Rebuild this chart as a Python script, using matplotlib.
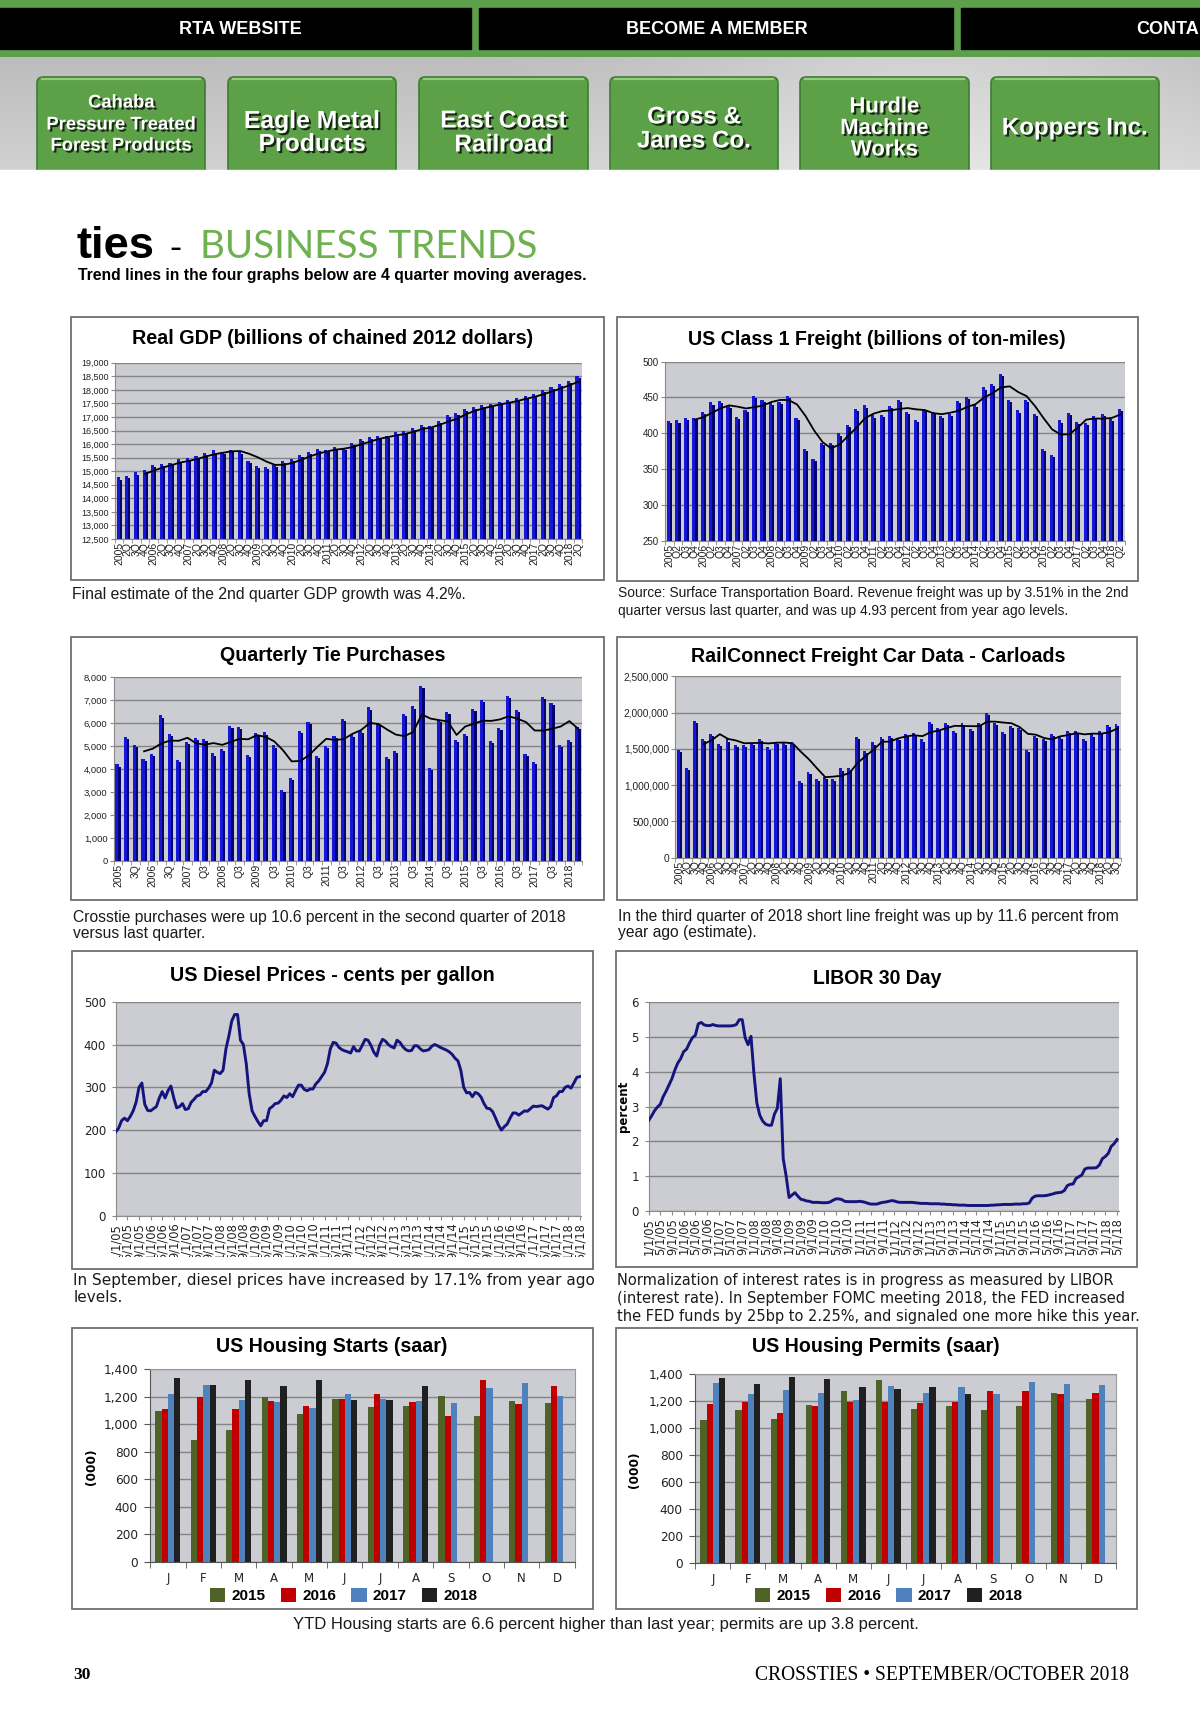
import numpy as np
import pandas as pd
import matplotlib
matplotlib.use('Agg')
import matplotlib.pyplot as plt
import matplotlib.patheffects as pe
from matplotlib import font_manager
from matplotlib.patches import Rectangle, FancyBboxPatch
from matplotlib.ticker import StrMethodFormatter
from matplotlib.transforms import Bbox, TransformedBbox

W, H = 1200, 1729

installed = {f.name for f in font_manager.fontManager.ttflist}
SANS = 'Liberation Sans'
NARROW = 'Liberation Sans Narrow' if 'Liberation Sans Narrow' in installed else SANS
VERD = 'DejaVu Sans'
SERIF = 'Liberation Serif'
LIGHT = 'Lato' if 'Lato' in installed else SANS
plt.rcParams['font.family'] = [SANS, 'DejaVu Sans']

# ---------------- data ----------------
# quarterly, 2005 Q1 .. 2018 Q2
gdp = [14768, 14840, 14956, 15041, 15244, 15282, 15305, 15434,
       15479, 15578, 15672, 15767, 15703, 15793, 15710, 15367,
       15188, 15162, 15217, 15379, 15456, 15606, 15726, 15808,
       15770, 15877, 15871, 16049, 16179, 16254, 16282, 16300,
       16442, 16464, 16595, 16713, 16654, 16868, 17065, 17144,
       17281, 17381, 17437, 17462, 17566, 17618, 17707, 17784,
       17863, 17995, 18121, 18224, 18324, 18512]

freight = [417, 418, 421, 421, 430, 443, 445, 438, 423, 433,
           452, 447, 443, 444, 452, 422, 379, 364, 387, 387,
           400, 412, 434, 439, 425, 426, 438, 447, 430, 419,
           434, 430, 424, 427, 445, 451, 440, 464, 469, 483,
           446, 432, 446, 427, 379, 370, 418, 428, 416, 415,
           424, 427, 420, 434]

ties = [4200, 5400, 5050, 4430, 4650, 6330, 5530, 4400, 5170, 5360,
        5300, 4680, 4860, 5880, 5820, 4610, 5570, 5590, 5030, 3080,
        3630, 5650, 6040, 4580, 4990, 5440, 6180, 5500, 5650, 6680,
        6000, 4530, 4780, 6400, 6720, 7600, 4050, 6130, 6480, 5260,
        5520, 6620, 7000, 5230, 5770, 7170, 6580, 4640, 4310, 7150,
        6890, 5040, 5250, 5820]

# quarterly, 2005 Q1 .. 2018 Q3
carloads = [1490000, 1240000, 1890000, 1640000, 1710000, 1570000, 1630000, 1550000, 1560000, 1580000,
            1640000, 1520000, 1600000, 1590000, 1590000, 1060000, 1180000, 1090000, 1110000, 1090000,
            1230000, 1240000, 1670000, 1470000, 1590000, 1660000, 1680000, 1650000, 1700000, 1720000,
            1630000, 1870000, 1790000, 1860000, 1750000, 1860000, 1780000, 1860000, 2000000, 1860000,
            1730000, 1820000, 1790000, 1490000, 1680000, 1640000, 1710000, 1660000, 1750000, 1750000,
            1640000, 1700000, 1740000, 1830000, 1840000]

# monthly, Jan 2005 .. May 2018
diesel = [196, 205, 222, 228, 222, 232, 245, 265, 300, 310, 260, 246,
          245, 250, 255, 275, 290, 275, 292, 303, 275, 252, 255, 262,
          248, 250, 265, 272, 280, 282, 290, 290, 298, 310, 340, 335,
          332, 340, 390, 420, 455, 470, 470, 410, 400, 355, 285, 245,
          232, 220, 210, 222, 222, 250, 255, 262, 263, 270, 280, 276,
          285, 278, 292, 305, 305, 295, 292, 296, 296, 308, 315, 325,
          335, 355, 390, 405, 403, 393, 388, 385, 383, 380, 395, 385,
          385, 398, 412, 410, 398, 382, 373, 398, 412, 408, 400, 395,
          392, 410, 405, 395, 388, 385, 386, 397, 397, 390, 385, 386,
          388, 396, 400, 397, 393, 390, 387, 383, 377, 368, 362, 340,
          300, 287, 288, 278, 288, 285, 277, 262, 251, 250, 243, 228,
          212, 200, 208, 214, 228, 240, 240, 235, 240, 245, 244, 250,
          256, 255, 256, 257, 253, 249, 255, 276, 280, 290, 290, 300,
          303, 298, 310, 323, 325]

libor = [2.59, 2.72, 2.87, 2.98, 3.06, 3.28, 3.44, 3.62, 3.80, 4.05, 4.25, 4.38,
         4.58, 4.65, 4.83, 4.98, 5.05, 5.38, 5.42, 5.35, 5.33, 5.33, 5.36, 5.33,
         5.32, 5.32, 5.32, 5.32, 5.32, 5.33, 5.36, 5.50, 5.50, 4.98, 4.78, 5.02,
         3.95, 3.10, 2.75, 2.58, 2.49, 2.46, 2.46, 2.78, 2.95, 3.80, 1.50, 1.00,
         0.38, 0.45, 0.52, 0.42, 0.33, 0.31, 0.28, 0.27, 0.24, 0.24, 0.24, 0.23,
         0.23, 0.23, 0.25, 0.30, 0.34, 0.34, 0.32, 0.27, 0.26, 0.26, 0.26, 0.26,
         0.27, 0.26, 0.24, 0.21, 0.19, 0.19, 0.19, 0.22, 0.24, 0.25, 0.27, 0.29,
         0.28, 0.25, 0.24, 0.24, 0.24, 0.24, 0.24, 0.23, 0.22, 0.21, 0.21, 0.21,
         0.20, 0.20, 0.20, 0.20, 0.19, 0.19, 0.18, 0.18, 0.17, 0.17, 0.16, 0.16,
         0.16, 0.15, 0.15, 0.15, 0.15, 0.15, 0.15, 0.15, 0.15, 0.16, 0.16, 0.17,
         0.17, 0.18, 0.18, 0.18, 0.18, 0.19, 0.19, 0.19, 0.20, 0.20, 0.22, 0.36,
         0.42, 0.43, 0.43, 0.43, 0.44, 0.46, 0.48, 0.51, 0.52, 0.53, 0.58, 0.72,
         0.76, 0.77, 0.93, 0.98, 1.03, 1.20, 1.23, 1.23, 1.23, 1.24, 1.32, 1.50,
         1.56, 1.65, 1.85, 1.93, 2.05]

months = ['J', 'F', 'M', 'A', 'M', 'J', 'J', 'A', 'S', 'O', 'N', 'D']
house_years = ['2015', '2016', '2017', '2018']
starts_2015 = [1095, 887, 959, 1201, 1076, 1185, 1129, 1136, 1209, 1061, 1170, 1153]
starts_2016 = [1112, 1199, 1112, 1170, 1131, 1182, 1223, 1160, 1061, 1325, 1148, 1281]
starts_2017 = [1223, 1286, 1177, 1160, 1119, 1223, 1185, 1170, 1155, 1264, 1301, 1209]
starts_2018 = [1335, 1286, 1325, 1277, 1325, 1175, 1175, 1279]
permits_2015 = [1060, 1134, 1067, 1171, 1272, 1358, 1139, 1161, 1134, 1163, 1260, 1218]
permits_2016 = [1181, 1195, 1109, 1166, 1190, 1195, 1183, 1195, 1277, 1277, 1250, 1262]
permits_2017 = [1331, 1250, 1282, 1257, 1205, 1311, 1257, 1301, 1252, 1341, 1324, 1319]
permits_2018 = [1368, 1324, 1378, 1366, 1301, 1292, 1301, 1250]

# tick labels
gdp_labels = [str(y) if q == 1 else f'{q}Q' for y in range(2005, 2019) for q in range(1, 5)][:54]
freight_labels = [str(y) if q == 1 else f'Q{q}' for y in range(2005, 2019) for q in range(1, 5)][:54]
ties_labels = [str(y) if q == 1 else ('3Q' if y < 2007 else 'Q3') for y in range(2005, 2019) for q in (1, 3)][:27]
carload_labels = [str(y) if q == 1 else f'{q}Q' for y in range(2005, 2019) for q in range(1, 5)][:55]
date_labels = [f'{m}/1/{y % 100:02d}' for y in range(2005, 2019) for m in (1, 5, 9)][:41]

# ---------------- style ----------------
GREEN = '#5e9f4b'
PLOT_BG = '#cbcdd2'
GRID = '#858585'
FRONT = '#1616d6'
SIDE = '#03036e'
LINE = '#14147c'
TEXT = '#1a1a1a'
HOUSE_COLORS = ['#4f6228', '#c00000', '#4f81bd', '#202020']

fig = plt.figure(figsize=(W / 100, H / 100), dpi=100)
page = fig.add_axes([0, 0, 1, 1])
page.axis('off')
renderer = fig.canvas.get_renderer()


def px_axes(x0, y0, x1, y1):
    return fig.add_axes([x0 / W, 1 - y1 / H, (x1 - x0) / W, (y1 - y0) / H])


def fit_text(x, y, s, width, size=10, **kw):
    t = page.text(x, y, s, fontsize=size, **kw)
    t.set_fontsize(size * width / t.get_window_extent(renderer).width)
    return t


def caption(x, ys, lines, width, family=SANS):
    t = fit_text(x, ys[0], lines[0], width, family=family, ha='left', va='center', color=TEXT)
    for y, s in zip(ys[1:], lines[1:]):
        page.text(x, y, s, fontsize=t.get_fontsize(), family=family, ha='left', va='center', color=TEXT)


def frame(x0, y0, x1, y1):
    page.add_patch(Rectangle((x0, y0), x1 - x0, y1 - y0, facecolor='white',
                             edgecolor='#6e6e6e', lw=1.3, zorder=1))


def title(cx, cy, s, width):
    fit_text(cx, cy, s, width, family=SANS, weight='bold', ha='center', va='center', color='black')


def base_style(ax, spine='#8a8a8a'):
    ax.set_facecolor(PLOT_BG)
    for s in ('top', 'right'):
        ax.spines[s].set_visible(False)
    for s in ('left', 'bottom'):
        ax.spines[s].set_color(spine)
    ax.grid(axis='y', color=GRID, lw=1.0)
    ax.set_axisbelow(True)


def quarter_bars(box, values, lo, hi, step, labels, every=1, ysize=7, xsize=7.5):
    ax = px_axes(*box)
    base_style(ax)
    v = np.asarray(values, float)
    x = np.arange(len(v))
    drop = (hi - lo) * 0.012
    ax.bar(x - 0.12, v - lo, bottom=lo, width=0.36, color=FRONT, lw=0, zorder=2)
    ax.bar(x + 0.18, v - lo - drop, bottom=lo, width=0.26, color=SIDE, lw=0, zorder=2)
    # 4 quarter moving average
    ax.plot(x, pd.Series(v).rolling(4).mean(), color='black', lw=1.3, zorder=3)
    ax.set_xlim(-0.5, len(v) - 0.5)
    ax.set_ylim(lo, hi)
    ax.set_yticks(np.arange(lo, hi + step / 2, step))
    ax.yaxis.set_major_formatter(StrMethodFormatter('{x:,.0f}'))
    ax.set_xticks(x[::every], labels)
    ax.set_xticks(np.arange(-0.5, len(v), 1), minor=True)
    ax.tick_params(axis='x', which='major', length=0, pad=2, labelsize=xsize, rotation=90)
    ax.tick_params(axis='x', which='minor', length=3, color='#8a8a8a')
    ax.tick_params(axis='y', length=3, pad=1.5, labelsize=ysize, color='#8a8a8a')
    for lab in ax.get_xticklabels() + ax.get_yticklabels():
        lab.set_fontfamily(NARROW)
        lab.set_color('#222222')
    return ax


def month_line(box, values, lo, hi, step, clip_y=None):
    ax = px_axes(*box)
    base_style(ax)
    x = np.arange(len(values))
    ax.plot(x, values, color=LINE, lw=2.1, solid_joinstyle='round', zorder=3)
    ax.set_xlim(0, len(values) - 0.4)
    ax.set_ylim(lo, hi)
    ax.set_yticks(np.arange(lo, hi + step / 2, step))
    ax.set_xticks(x[::4], date_labels)
    ax.tick_params(axis='x', length=3, pad=2, labelsize=8.3, rotation=90, color='#8a8a8a')
    ax.tick_params(axis='y', length=3, pad=4, labelsize=8.5, color='#8a8a8a')
    for lab in ax.get_xticklabels() + ax.get_yticklabels():
        lab.set_fontfamily(VERD)
        lab.set_color('#222222')
    if clip_y is not None:
        clip = TransformedBbox(Bbox.from_extents(0, 1 - clip_y / H, 1, 1), fig.transFigure)
        for lab in ax.get_xticklabels():
            lab.set_clip_box(clip)
            lab.set_clip_on(True)
    return ax


def housing(box, series, legend_xy):
    ax = px_axes(*box)
    base_style(ax, spine='#555555')
    for s in ('top', 'right'):
        ax.spines[s].set_visible(True)
        ax.spines[s].set_color('#9a9a9a')
    w = 0.177
    for k, (vals, col, yr) in enumerate(zip(series, HOUSE_COLORS, house_years)):
        ax.bar(np.arange(len(vals)) + (k - 1.5) * w, vals, width=w, color=col,
               lw=0, zorder=2, label=yr)
    ax.set_xlim(-0.5, 11.5)
    ax.set_ylim(0, 1400)
    ax.set_yticks(range(0, 1401, 200))
    ax.yaxis.set_major_formatter(StrMethodFormatter('{x:,.0f}'))
    ax.set_xticks(np.arange(12), months)
    ax.set_xticks(np.arange(-0.5, 12, 1), minor=True)
    ax.tick_params(axis='x', which='major', length=0, pad=7, labelsize=8.5)
    ax.tick_params(axis='x', which='minor', length=4, color='#555555')
    ax.tick_params(axis='y', length=4, pad=5, labelsize=8.7, color='#555555')
    for lab in ax.get_xticklabels() + ax.get_yticklabels():
        lab.set_fontfamily(VERD)
        lab.set_color('#222222')
    ax.legend(loc='center', bbox_to_anchor=legend_xy, bbox_transform=page.transData,
              ncol=4, frameon=False, handlelength=1.0, handleheight=1.0,
              handletextpad=0.4, columnspacing=1.0,
              prop={'family': SANS, 'weight': 'bold', 'size': 11})
    return ax


# ---------------- header ----------------
page.add_patch(Rectangle((0, 0), W, 57, color=GREEN, zorder=1))
for x0, x1 in [(0, 471), (479, 953), (961, W)]:
    page.add_patch(Rectangle((x0, 8), x1 - x0, 41, color='black', zorder=2))

yy = np.linspace(0, 1, 60)[:, None]
xx = np.linspace(0, 1, 240)[None, :]
shade = 0.74 + 0.08 * yy + 0.08 * np.exp(-((xx - 0.78) / 0.22) ** 2)
page.imshow(np.dstack([shade, shade, shade]), extent=(0, W, 170, 57),
            aspect='auto', interpolation='bilinear', zorder=1)

nav_size = 13
page.text(240, 29.5, 'RTA WEBSITE', fontsize=nav_size, family=NARROW, weight='bold',
          ha='center', va='center', color='white', zorder=3)
page.text(717, 29.5, 'BECOME A MEMBER', fontsize=nav_size, family=NARROW, weight='bold',
          ha='center', va='center', color='white', zorder=3)
page.text(1199, 29.5, 'CONTA', fontsize=nav_size, family=NARROW, weight='bold',
          ha='right', va='center', color='white', zorder=3)

buttons = [(37, 205, ['Cahaba', 'Pressure Treated', 'Forest Products'], [103, 125, 146]),
           (228, 396, ['Eagle Metal', 'Products'], [121, 144]),
           (419, 588, ['East Coast', 'Railroad'], [121, 145]),
           (610, 778, ['Gross &', 'Janes Co.'], [117, 141]),
           (800, 969, ['Hurdle', 'Machine', 'Works'], [107, 128.5, 150]),
           (991, 1159, ['Koppers Inc.'], [128])]
line_w = [150, 136, 126, 114, 88, 146]
shadow = [pe.withSimplePatchShadow(offset=(1.5, -1.5), shadow_rgbFace='black', alpha=0.75)]
for (x0, x1, lines, ys), lw_ in zip(buttons, line_w):
    page.add_patch(FancyBboxPatch((x0, 77), x1 - x0, 110, boxstyle='round,pad=0,rounding_size=6',
                                  fc='#5ca048', ec='#3f7d33', lw=1.2, zorder=2))
    page.plot([x0 + 5, x1 - 5], [78.5, 78.5], color='#95cc82', lw=1.6, zorder=3)
    widest = max(lines, key=len)
    t = fit_text((x0 + x1) / 2, ys[lines.index(widest)], widest, lw_, family=NARROW,
                 weight='bold', ha='center', va='center', color='white', zorder=5)
    t.set_path_effects(shadow)
    for s, y in zip(lines, ys):
        if s != widest:
            page.text((x0 + x1) / 2, y, s, fontsize=t.get_fontsize(), family=NARROW, weight='bold',
                      ha='center', va='center', color='white', zorder=5, path_effects=shadow)
page.add_patch(Rectangle((0, 170), W, 30, color='white', zorder=4))

# ---------------- page title ----------------
fit_text(76.7, 258.3, 'ties', 78.5, family=SANS, weight='bold', ha='left', va='baseline', color='black')
page.text(169, 258.3, '-', fontsize=26, family=SANS, ha='left', va='baseline', color='black')
fit_text(200, 258.3, 'BUSINESS TRENDS', 335, family=LIGHT, weight='normal', ha='left',
         va='baseline', color='#6fb14f')
fit_text(78.3, 275, 'Trend lines in the four graphs below are 4 quarter moving averages.', 510,
         family=SANS, weight='bold', ha='left', va='center', color='black')

# ---------------- row 1 ----------------
frame(71, 316.7, 604, 580)
title(332.6, 338.3, 'Real GDP (billions of chained 2012 dollars)', 401)
quarter_bars((114.8, 362.7, 582.4, 539), gdp, 12500, 19000, 500, gdp_labels, ysize=6.5)
caption(72, [594], ['Final estimate of the 2nd quarter GDP growth was 4.2%.'], 395)

frame(616.7, 316.7, 1138, 581)
title(877, 339, 'US Class 1 Freight (billions of ton-miles)', 378)
quarter_bars((665.2, 361.5, 1124.5, 541.3), freight, 250, 500, 50, freight_labels, ysize=7)
caption(617.7, [593, 610.6],
        ['Source: Surface Transportation Board. Revenue freight was up by 3.51% in the 2nd',
         'quarter versus last quarter, and was up 4.93 percent from year ago levels.'], 508)

# ---------------- row 2 ----------------
frame(71, 636.7, 604, 900)
title(333, 655.7, 'Quarterly Tie Purchases', 225.5)
quarter_bars((113.7, 677, 582.4, 861), ties, 0, 8000, 1000, ties_labels, every=2, ysize=6.8)
caption(72.8, [917, 933],
        ['Crosstie purchases were up 10.6 percent in the second quarter of 2018',
         'versus last quarter.'], 495)

frame(616.7, 636.7, 1137, 900)
title(877.8, 656.7, 'RailConnect Freight Car Data - Carloads', 375)
quarter_bars((675.3, 676.3, 1121, 857.7), carloads, 0, 2500000, 500000, carload_labels, ysize=7.3)
caption(618.3, [916, 932.7],
        ['In the third quarter of 2018 short line freight was up by 11.6 percent from',
         'year ago (estimate).'], 501)

# ---------------- row 3 ----------------
frame(71.7, 951, 593.4, 1269)
title(332.6, 975, 'US Diesel Prices - cents per gallon', 325)
month_line((115.8, 1001.7, 581.4, 1215.7), diesel, 0, 500, 100, clip_y=1257)
caption(73.4, [1280.7, 1298],
        ['In September, diesel prices have increased by 17.1% from year ago', 'levels.'], 518,
        family=VERD)

frame(615.7, 951, 1137, 1267)
title(877, 978.3, 'LIBOR 30 Day', 129)
month_line((648.5, 1002.3, 1118.8, 1210.7), libor, 0, 6, 1)
page.text(623.4, 1106.7, 'percent', rotation=90, family=VERD, weight='bold', fontsize=8.5,
          ha='center', va='center', color='black')
caption(616.7, [1280, 1298, 1316],
        ['Normalization of interest rates is in progress as measured by LIBOR',
         '(interest rate). In September FOMC meeting 2018, the FED increased',
         'the FED funds by 25bp to 2.25%, and signaled one more hike this year.'], 494,
        family=VERD)

# ---------------- row 4 ----------------
frame(71.7, 1328.3, 593.4, 1609.3)
title(331.7, 1346.7, 'US Housing Starts (saar)', 231)
housing((150.2, 1369.3, 574.8, 1562), [starts_2015, starts_2016, starts_2017, starts_2018],
        (343.7, 1595.7))
page.text(91.3, 1466.7, '(000)', rotation=90, family=VERD, weight='bold', fontsize=8.7,
          ha='center', va='center', color='black')

frame(616, 1327.7, 1137, 1609.3)
title(875.5, 1346.7, 'US Housing Permits (saar)', 248)
housing((695.3, 1374, 1116.2, 1563.3), [permits_2015, permits_2016, permits_2017, permits_2018],
        (888.7, 1595.7))
page.text(634.4, 1470, '(000)', rotation=90, family=VERD, weight='bold', fontsize=8.7,
          ha='center', va='center', color='black')

fit_text(606, 1625, 'YTD Housing starts are 6.6 percent higher than last year; permits are up 3.8 percent.',
         624, family=SANS, ha='center', va='center', color=TEXT)

# ---------------- footer ----------------
page.text(73, 1675, '30', fontsize=12.5, family=SERIF, weight='bold', ha='left', va='center', color='black')
fit_text(1129, 1675, 'CROSSTIES \u2022 SEPTEMBER/OCTOBER 2018', 375, family=SERIF,
         ha='right', va='center', color='black')

page.set_xlim(0, W)
page.set_ylim(H, 0)
fig.savefig('out.png', dpi=100)
